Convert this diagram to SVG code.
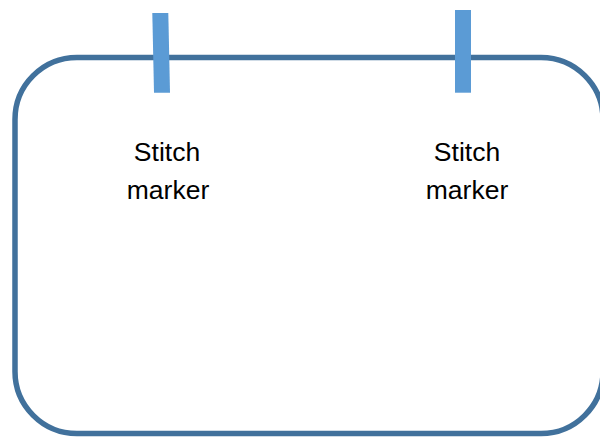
<svg xmlns="http://www.w3.org/2000/svg" width="600" height="439" viewBox="0 0 600 439">
<style>
.frame{fill:#FFFFFF;stroke:#41719C;stroke-width:5.5}
.marker{fill:#5B9BD5}
.lbl{font-family:"Liberation Sans",Arial,sans-serif;font-size:26.5px;fill:#000000;text-anchor:middle}
</style>
<rect width="600" height="439" fill="#FFFFFF"/>
<g id="board">
<rect class="frame" x="15" y="57.5" width="588" height="376" rx="62" ry="62"/>
</g>
<g id="marker1">
<polygon class="marker" points="152.3,13 168.3,13 170,92.7 154,92.7"/>
<text class="lbl" x="167" y="161">Stitch</text>
<text class="lbl" x="168" y="199">marker</text>
</g>
<g id="marker2">
<rect class="marker" x="455" y="10" width="16" height="82.7"/>
<text class="lbl" x="467" y="161">Stitch</text>
<text class="lbl" x="467" y="199">marker</text>
</g>
<g id="connectors"></g>
</svg>
